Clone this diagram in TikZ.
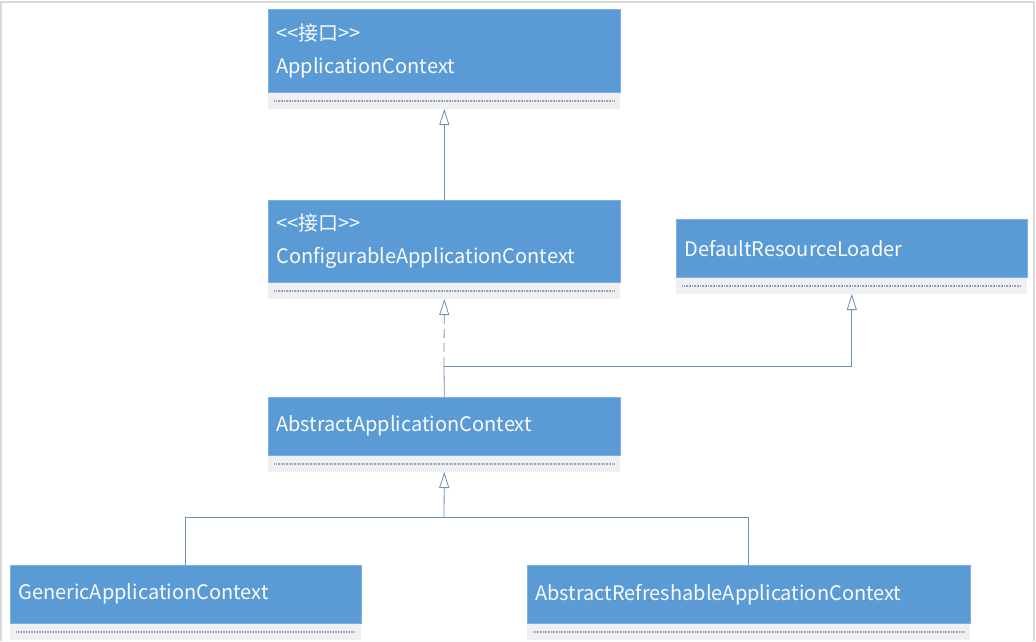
\documentclass[tikz,border=0pt]{standalone}
\usepackage{fontspec}
\setmainfont{Noto Sans CJK SC}
\usetikzlibrary{arrows.meta,positioning}

\definecolor{umlblue}{HTML}{5B9BD5}
\definecolor{umledge}{HTML}{7EB0E0}
\definecolor{umlline}{HTML}{6F8FB5}
\definecolor{umlgray}{HTML}{F0F0F2}
\definecolor{umldots}{HTML}{8FA6C2}
\definecolor{frame}{HTML}{DADADA}

\tikzset{
  classbox/.style={rectangle, fill=umlblue, draw=umledge, line width=0.6pt,
    anchor=north west, align=left, text=white!96!umlblue,
    font=\fontsize{20}{33}\selectfont, inner xsep=8pt, inner ysep=0pt,
    minimum height=#1},
  classbox/.default=58pt,
  opsbox/.style={rectangle, fill=umlgray, draw=none, anchor=north,
    inner sep=0pt, minimum height=16pt,
    path picture={\draw[umldots, line width=1.4pt, dash pattern=on 0.9pt off 0.7pt]
      ([xshift=6pt]path picture bounding box.west) --
      ([xshift=-6pt]path picture bounding box.east);}},
  inherit/.style={umlline, line width=0.8pt,
    -{Triangle[open, width=10pt, length=16pt, fill=white]}},
  plain/.style={umlline, line width=0.8pt}
}

\begin{document}
\begin{tikzpicture}[x=1pt,y=-1pt]

    % Marco de la imagen
    \useasboundingbox (0,0) rectangle (1036,641);
    \draw[frame, line width=1.2pt] (1,641) -- (1,2) -- (1034,2) -- (1034,641);

    % Interfaz superior
    \node[classbox=83pt, text width=336pt] (ctx) at (268,9)
        {{<}{<}接口{>}{>}\\ApplicationContext};
    \node[opsbox, minimum width=352pt] (ctxops) at (ctx.south) {};

    % Interfaz configurable
    \node[classbox=82pt, text width=336pt] (cfg) at (268,200)
        {{<}{<}接口{>}{>}\\ConfigurableApplicationContext};
    \node[opsbox, minimum width=352pt] (cfgops) at (cfg.south) {};

    % Cargador de recursos
    \node[classbox, text width=335pt] (loader) at (676,219) {DefaultResourceLoader};
    \node[opsbox, minimum width=351pt] (loaderops) at (loader.south) {};

    % Clase abstracta
    \node[classbox, text width=336pt] (abs) at (268,397) {AbstractApplicationContext};
    \node[opsbox, minimum width=352pt] (absops) at (abs.south) {};

    % Subclases
    \node[classbox, text width=335pt] (gen) at (10,565) {GenericApplicationContext};
    \node[opsbox, minimum width=351pt] (genops) at (gen.south) {};

    \node[classbox, text width=427pt] (ref) at (527,565) {AbstractRefreshableApplicationContext};
    \node[opsbox, minimum width=443pt] (refops) at (ref.south) {};

    % Puntos de union
    \coordinate (up) at (444,366);
    \coordinate (down) at (444,517);

    % Herencia entre interfaces
    \draw[inherit] (cfg.north) -- (ctxops.south);

    % Implementacion (discontinua) y herencia del cargador
    \draw[inherit, dash pattern=on 9pt off 5pt] (up) -- (cfgops.south);
    \draw[plain] (abs.north) -- (up);
    \draw[inherit] (up) -| (loaderops.south);

    % Subclases de la clase abstracta
    \draw[plain] (gen.north) |- (down) -| (ref.north);
    \draw[inherit] (down) -- (absops.south);

\end{tikzpicture}
\end{document}
